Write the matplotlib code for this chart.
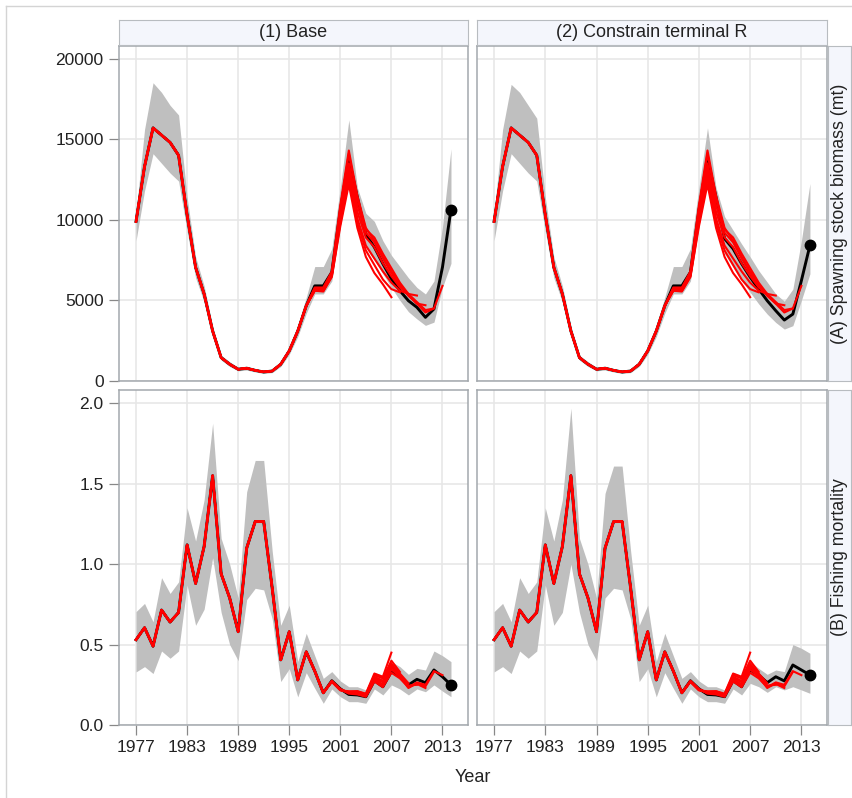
import matplotlib
matplotlib.use("Agg")
import matplotlib.pyplot as plt
from matplotlib.lines import Line2D

plt.rcParams['font.family'] = ['Liberation Sans', 'DejaVu Sans']

years = list(range(1977, 2015))
xtick_years = [1977, 1983, 1989, 1995, 2001, 2007, 2013]
col_titles = ["(1) Base", "(2) Constrain terminal R"]
row_titles = ["(A) Spawning stock biomass (mt)", "(B) Fishing mortality"]

# ---- spawning stock biomass (mt), base run ----
ssb_base = [9900, 13300, 15700, 15250, 14800, 14000, 10300, 7050, 5400, 3100,
            1450, 1040, 730, 790, 660, 560, 620, 1040, 1870, 3100,
            4670, 5900, 5900, 6750, 10600, 13800, 11400, 9100, 8300, 7270,
            6330, 5600, 4980, 4570, 3950, 4470, 7060, 10630]
ssb_base_lo = [8700, 11800, 14100, 13500, 12900, 12400, 9300, 6400, 4900, 2800,
               1300, 900, 630, 680, 560, 470, 520, 900, 1650, 2750,
               4200, 5400, 5400, 6200, 9600, 12300, 10200, 8300, 7500, 6650,
               5800, 5000, 4300, 3850, 3450, 3650, 5800, 7300]
ssb_base_hi = [10400, 15600, 18500, 17900, 17100, 16500, 11400, 7700, 5900, 3400,
               1600, 1200, 850, 920, 770, 660, 730, 1200, 2100, 3450,
               5200, 7100, 7100, 8200, 12000, 16200, 12000, 10400, 9900, 8700,
               7800, 7100, 6400, 5800, 5400, 6200, 9550, 14400]

# ---- spawning stock biomass (mt), constrained terminal recruitment ----
ssb_con = [9900, 13300, 15700, 15250, 14800, 14000, 10300, 7050, 5400, 3100,
           1450, 1040, 730, 790, 660, 560, 620, 1040, 1870, 3100,
           4670, 5900, 5900, 6750, 10600, 13800, 11400, 8830, 8200, 7270,
           6440, 5700, 4980, 4360, 3780, 4150, 6230, 8410]
ssb_con_lo = [8700, 11800, 14100, 13500, 12900, 12400, 9300, 6400, 4900, 2800,
              1300, 900, 630, 680, 560, 470, 520, 900, 1650, 2750,
              4200, 5400, 5400, 6200, 9600, 12250, 10200, 7900, 7060, 6230,
              5500, 4780, 4150, 3630, 3220, 3430, 5000, 6650]
ssb_con_hi = [10400, 15600, 18400, 17900, 17100, 16300, 11400, 7700, 5900, 3400,
              1600, 1200, 850, 920, 770, 660, 730, 1200, 2100, 3450,
              5200, 7100, 7100, 8200, 12000, 15700, 12000, 10200, 9350, 8500,
              7700, 6850, 6130, 5400, 4950, 5700, 8700, 12250]

# retrospective peels of SSB from 1998 up to each peel's terminal year
ssb_peel_start = 1998
ssb_peels = [
    [5800, 5800, 6800, 10900, 14300, 11500, 9500, 8700, 7700, 6800, 6000, 5300, 4800, 4250, 4500, 5900],
    [5750, 5750, 6700, 10700, 14100, 11300, 9400, 8900, 7900, 7000, 6100, 5400, 4900, 4400, 4500],
    [5700, 5700, 6650, 10400, 13500, 10900, 9200, 8600, 7600, 6700, 5900, 5300, 4800, 4700],
    [5650, 5650, 6600, 10200, 13200, 10500, 8900, 8300, 7300, 6500, 5800, 5400, 5300],
    [5650, 5600, 6550, 10000, 12900, 10100, 8400, 7600, 6800, 6100, 5600, 5400],
    [5600, 5600, 6500, 9800, 12600, 9800, 8100, 7200, 6300, 5700, 5500],
    [5600, 5550, 6450, 9600, 12200, 9500, 7700, 6700, 6000, 5200],
]

# ---- fishing mortality, base run ----
f_base = [0.53, 0.605, 0.49, 0.715, 0.64, 0.70, 1.12, 0.88, 1.11, 1.55,
          0.94, 0.79, 0.58, 1.10, 1.265, 1.265, 0.85, 0.405, 0.58, 0.28,
          0.455, 0.335, 0.20, 0.275, 0.225, 0.19, 0.187, 0.176, 0.276, 0.238,
          0.332, 0.30, 0.249, 0.284, 0.263, 0.342, 0.30, 0.249]
f_base_lo = [0.33, 0.363, 0.32, 0.46, 0.415, 0.46, 0.87, 0.62, 0.72, 1.04,
             0.70, 0.50, 0.40, 0.78, 0.85, 0.84, 0.66, 0.27, 0.35, 0.175,
             0.325, 0.228, 0.135, 0.224, 0.176, 0.145, 0.145, 0.135, 0.224, 0.187,
             0.249, 0.224, 0.187, 0.224, 0.207, 0.249, 0.211, 0.176]
f_base_hi = [0.705, 0.756, 0.642, 0.916, 0.818, 0.89, 1.35, 1.144, 1.40, 1.876,
             1.16, 1.0, 0.79, 1.45, 1.645, 1.645, 1.08, 0.62, 0.745, 0.395,
             0.57, 0.43, 0.29, 0.332, 0.274, 0.238, 0.238, 0.218, 0.327, 0.307,
             0.394, 0.363, 0.315, 0.352, 0.342, 0.46, 0.431, 0.394]

# ---- fishing mortality, constrained terminal recruitment ----
f_con = [0.53, 0.605, 0.49, 0.715, 0.64, 0.70, 1.12, 0.88, 1.11, 1.55,
         0.94, 0.79, 0.58, 1.10, 1.265, 1.265, 0.85, 0.405, 0.58, 0.28,
         0.455, 0.335, 0.20, 0.275, 0.225, 0.19, 0.187, 0.176, 0.276, 0.238,
         0.342, 0.311, 0.263, 0.30, 0.274, 0.373, 0.342, 0.311]
f_con_lo = [0.33, 0.363, 0.32, 0.46, 0.415, 0.46, 0.87, 0.62, 0.70, 1.0,
            0.70, 0.50, 0.40, 0.79, 0.85, 0.84, 0.66, 0.27, 0.35, 0.175,
            0.325, 0.228, 0.135, 0.224, 0.176, 0.145, 0.145, 0.135, 0.224, 0.187,
            0.259, 0.238, 0.203, 0.238, 0.218, 0.238, 0.218, 0.197]
f_con_hi = [0.705, 0.756, 0.642, 0.916, 0.818, 0.89, 1.35, 1.144, 1.40, 1.97,
            1.16, 1.0, 0.79, 1.44, 1.61, 1.61, 1.08, 0.62, 0.745, 0.395,
            0.57, 0.43, 0.29, 0.332, 0.274, 0.238, 0.238, 0.218, 0.327, 0.307,
            0.394, 0.352, 0.315, 0.342, 0.332, 0.50, 0.477, 0.446]

# retrospective peels of F from 2000 up to each peel's terminal year
f_peel_start = 2000
f_peels = [
    [0.274, 0.222, 0.195, 0.19, 0.175, 0.27, 0.235, 0.325, 0.29, 0.235, 0.265, 0.25, 0.335, 0.31],
    [0.275, 0.224, 0.20, 0.195, 0.18, 0.28, 0.245, 0.345, 0.30, 0.23, 0.26, 0.24, 0.33],
    [0.272, 0.22, 0.20, 0.20, 0.18, 0.29, 0.25, 0.36, 0.305, 0.24, 0.255, 0.23],
    [0.27, 0.22, 0.20, 0.20, 0.185, 0.295, 0.265, 0.37, 0.31, 0.245, 0.25],
    [0.27, 0.218, 0.205, 0.205, 0.19, 0.30, 0.275, 0.38, 0.32, 0.26],
    [0.27, 0.218, 0.205, 0.21, 0.19, 0.31, 0.29, 0.40, 0.33],
    [0.268, 0.215, 0.21, 0.21, 0.195, 0.32, 0.30, 0.45],
]

W, H = 853, 798
fig = plt.figure(figsize=(W / 100, H / 100), dpi=100)

FRAME = '#a3a8ad'
STRIP = '#f4f6fc'
GRID = '#e6e6e6'
TXT = '#222222'


def box(x0, y0, x1, y1):
    # pixel box (top-left origin) -> figure fraction rect
    return [x0 / W, 1 - y1 / H, (x1 - x0) / W, (y1 - y0) / H]


def draw_panel(ax, mid, lo, hi, peels, peel_start):
    ax.fill_between(years, lo, hi, color='#bfbfbf', lw=0, zorder=1)
    ax.plot(years, mid, color='black', lw=2.1, zorder=3)
    k = years.index(peel_start)
    for tail in peels:
        yy = mid[:k] + tail
        ax.plot(years[:len(yy)], yy, color='#ff0000', lw=1.5, zorder=4)
    ax.plot(years[-1], mid[-1], 'o', color='black', ms=7.5, zorder=5)


col_x = [(119, 468), (477, 827)]
row_y = [(46, 381), (390, 725)]
panels = [
    [(ssb_base, ssb_base_lo, ssb_base_hi, ssb_peels, ssb_peel_start),
     (ssb_con, ssb_con_lo, ssb_con_hi, ssb_peels, ssb_peel_start)],
    [(f_base, f_base_lo, f_base_hi, f_peels, f_peel_start),
     (f_con, f_con_lo, f_con_hi, f_peels, f_peel_start)],
]
ylims = [(0, 20780), (0, 2.083)]
yticks = [[0, 5000, 10000, 15000, 20000], [0.0, 0.5, 1.0, 1.5, 2.0]]
yfmt = [lambda v: "%d" % v, lambda v: "%.1f" % v]

for r in range(2):
    for c in range(2):
        x0, x1 = col_x[c]
        y0, y1 = row_y[r]
        ax = fig.add_axes(box(x0, y0, x1, y1))
        draw_panel(ax, *panels[r][c])
        ax.set_xlim(1975, 2016)
        ax.set_ylim(*ylims[r])
        ax.set_xticks(xtick_years)
        ax.set_yticks(yticks[r])
        ax.grid(True, color=GRID, lw=1.1, zorder=0)
        ax.set_axisbelow(True)
        for s in ax.spines.values():
            s.set_color(FRAME)
            s.set_linewidth(1.1)
        ax.tick_params(length=7, width=0.9, color='#888888', labelsize=12.5,
                       labelcolor=TXT, pad=4)
        if c == 0:
            ax.set_yticklabels([yfmt[r](v) for v in yticks[r]])
        else:
            ax.tick_params(axis='y', length=0, labelleft=False)
        if r == 1:
            ax.set_xticklabels([str(v) for v in xtick_years])
        else:
            ax.tick_params(axis='x', length=0, labelbottom=False)

# column strips
for c in range(2):
    x0, x1 = col_x[c]
    sax = fig.add_axes(box(x0, 20, x1, 45))
    sax.set_facecolor(STRIP)
    sax.set_xticks([])
    sax.set_yticks([])
    for s in sax.spines.values():
        s.set_color('#b8bcc0')
    sax.text(0.5, 0.5, col_titles[c], ha='center', va='center', fontsize=13,
             color=TXT, transform=sax.transAxes)

# row strips
for r in range(2):
    y0, y1 = row_y[r]
    sax = fig.add_axes(box(828, y0, 851, y1))
    sax.set_facecolor(STRIP)
    sax.set_xticks([])
    sax.set_yticks([])
    for s in sax.spines.values():
        s.set_color('#b8bcc0')
    sax.text(0.5, 0.5, row_titles[r], ha='center', va='center', rotation=90,
             fontsize=12.8, color=TXT, transform=sax.transAxes)

fig.text(473 / W, 1 - 778 / H, "Year", ha='center', va='center', fontsize=13,
         color=TXT)

# outer frame of the graph area
fig.add_artist(Line2D([6 / W, 6 / W], [0, 1 - 6 / H], transform=fig.transFigure,
                      color='#d4d4d4', lw=1))
fig.add_artist(Line2D([6 / W, 1], [1 - 6 / H, 1 - 6 / H], transform=fig.transFigure,
                      color='#d4d4d4', lw=1))

fig.savefig("out.png", dpi=100)
